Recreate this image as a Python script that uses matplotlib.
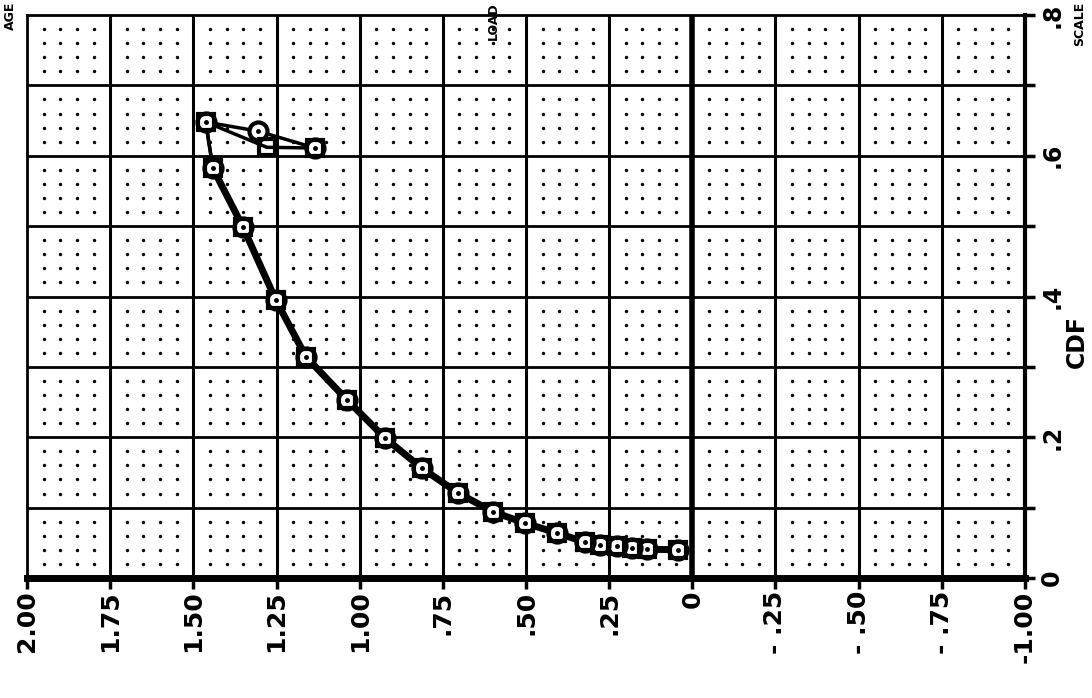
import numpy as np
import matplotlib
matplotlib.use("Agg")
import matplotlib.pyplot as plt

# ---- data ----
lower_x = [0.043, 0.136, 0.182, 0.227, 0.278, 0.323, 0.407, 0.503, 0.599, 0.705,
           0.813, 0.924, 1.038, 1.161, 1.252, 1.351, 1.441]
lower_cdf = [0.040, 0.041, 0.043, 0.045, 0.047, 0.051, 0.064, 0.078, 0.094, 0.121,
             0.156, 0.199, 0.253, 0.314, 0.395, 0.499, 0.582]
sq_top_x = [1.463, 1.279, 1.134]
sq_top_cdf = [0.648, 0.612, 0.611]
ci_top_x = [1.463, 1.306, 1.134]
ci_top_cdf = [0.648, 0.635, 0.611]

xticks = [2.0, 1.75, 1.5, 1.25, 1.0, 0.75, 0.5, 0.25, 0.0, -0.25, -0.5, -0.75, -1.0]
xtick_labels = ["2.00", "1.75", "1.50", "1.25", "1.00", ".75", ".50", ".25", "0",
                "- .25", "- .50", "- .75", "-1.00"]
yticks = [0.0, 0.2, 0.4, 0.6, 0.8]
ytick_labels = ["0", ".2", ".4", ".6", ".8"]

fig = plt.figure(figsize=(10.92, 6.98), dpi=100)
ax = fig.add_axes([27/1092, 1-578/698, (1025-27)/1092, (578-15)/698])
ax.set_xlim(2.0, -1.0)
ax.set_ylim(0.0, 0.8)

# dotted background (dots between grid lines)
dx = np.arange(2.0, -1.0, -0.05)
dy = np.arange(0.0, 0.8, 0.02)
DX, DY = np.meshgrid(dx, dy)
mask = (np.abs(np.round(DX / 0.25) * 0.25 - DX) > 1e-6) & (np.abs(np.round(DY / 0.1) * 0.1 - DY) > 1e-6)
ax.scatter(DX[mask], DY[mask], s=6, c="black", marker="o", linewidths=0, zorder=1)

# grid lines
for gx in np.arange(1.75, -1.0, -0.25):
    ax.axvline(gx, color="black", lw=2.2 if abs(gx) > 1e-9 else 4.0, zorder=2)
for gy in np.arange(0.1, 0.8, 0.1):
    ax.axhline(gy, color="black", lw=2.0, zorder=2)

# series: heavy common lower curve, lighter diverging top branches
sx = [lower_x[-1]] + sq_top_x
sy = [lower_cdf[-1]] + sq_top_cdf
cx = [lower_x[-1]] + ci_top_x
cy = [lower_cdf[-1]] + ci_top_cdf
ax.plot(lower_x, lower_cdf, color="black", lw=5.0, zorder=3)
ax.plot(cx, cy, color="black", lw=2.5, zorder=3)
ax.plot(sx, sy, color="black", lw=2.5, zorder=3)
ax.plot(lower_x + ci_top_x, lower_cdf + ci_top_cdf, linestyle="none", marker="o", ms=13,
        mfc="white", mec="black", mew=3.0, zorder=4)
ax.plot(lower_x + sq_top_x, lower_cdf + sq_top_cdf, linestyle="none", marker="s", ms=12,
        mfc="none", mec="black", mew=3.0, zorder=5)
ax.plot(lower_x + ci_top_x, lower_cdf + ci_top_cdf, linestyle="none", marker=".", ms=5,
        color="black", zorder=6)

# spines
for side, lw in [("left", 2.0), ("top", 2.0), ("right", 3.0), ("bottom", 5.0)]:
    ax.spines[side].set_linewidth(lw)
    ax.spines[side].set_color("black")

ax.set_xticks(xticks)
ax.set_xticklabels(xtick_labels, rotation=90, fontsize=18, fontweight="bold")
ax.tick_params(axis="x", direction="out", length=8, width=2.5, pad=1)

ax.yaxis.tick_right()
ax.set_yticks(yticks)
ax.set_yticklabels(ytick_labels, rotation=90, fontsize=17, fontweight="bold", va="center")
ax.set_yticks(np.arange(0.1, 0.8, 0.2), minor=True)
ax.tick_params(axis="y", which="both", direction="out", length=7, width=2.5, pad=4,
               left=False, right=True)
ax.yaxis.set_label_position("right")
ax.set_ylabel("CDF", rotation=90, fontsize=17, fontweight="bold")
ax.yaxis.set_label_coords(1.04, 0.42)

# small header texts at the top edge
fig.text(1080/1092, 1-2/698, "SCALE", rotation=90, fontsize=9, fontweight="bold",
         ha="center", va="top")
fig.text(493/1092, 1-2/698, "LOAD", rotation=90, fontsize=9, fontweight="bold",
         ha="center", va="top")
fig.text(10/1092, 1-2/698, "AGE", rotation=90, fontsize=9, fontweight="bold",
         ha="center", va="top")

fig.savefig("out.png", dpi=100, facecolor="white")
